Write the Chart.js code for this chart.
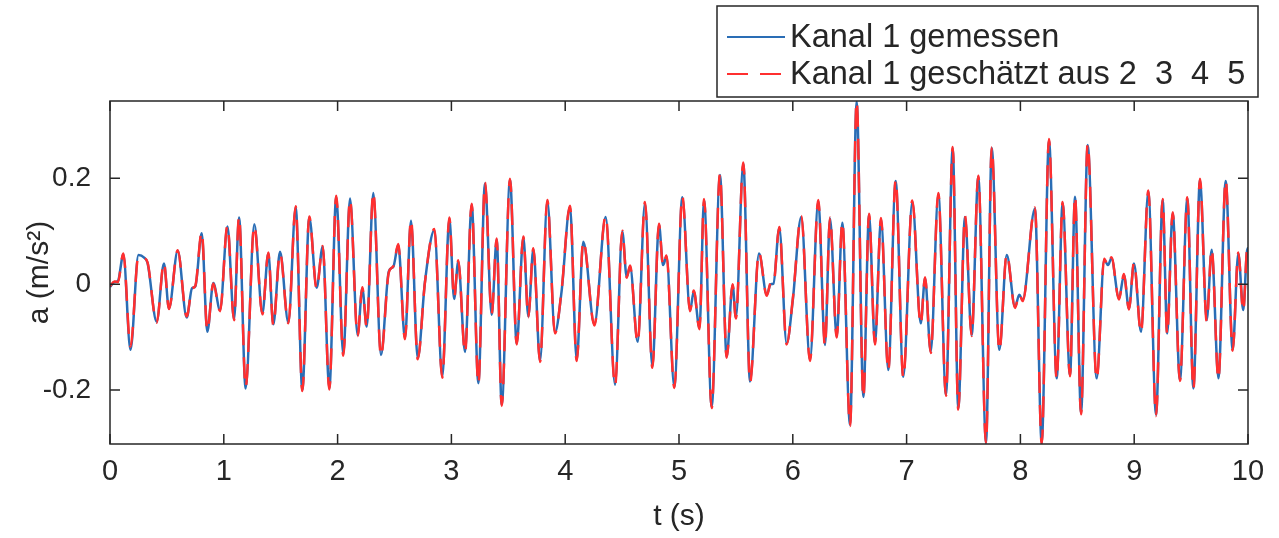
<!DOCTYPE html>
<html>
<head>
<meta charset="utf-8">
<script src="https://cdn.jsdelivr.net/npm/chart.js@4.4.1/dist/chart.umd.min.js"></script>
<style>
  html, body { margin: 0; padding: 0; background: #fff; }
</style>
</head>
<body>
<canvas id="myChart" width="1279" height="538"></canvas>
<script>
// time axis (s) - extrema
var times = [
  0.00, 0.04, 0.07, 0.117, 0.18, 0.25, 0.30, 0.33, 0.41, 0.474, 0.518, 0.595, 0.674, 0.72, 0.75, 0.806, 0.855, 0.908, 0.967,
  1.032, 1.09, 1.134, 1.192, 1.268, 1.339, 1.391, 1.435, 1.494, 1.567, 1.632, 1.69, 1.751, 1.816, 1.869, 1.927, 1.988,
  2.05, 2.109, 2.176, 2.217, 2.256, 2.314, 2.381, 2.45, 2.49, 2.533, 2.592, 2.645, 2.704, 2.768, 2.85, 2.92, 2.982,
  3.024, 3.06, 3.12, 3.178, 3.237, 3.295, 3.354, 3.398, 3.442, 3.515, 3.574, 3.632, 3.676, 3.72, 3.779, 3.843, 3.91, 3.968,
  4.042, 4.101, 4.159, 4.256, 4.356, 4.438, 4.502, 4.54, 4.57, 4.637, 4.701, 4.766, 4.824, 4.86, 4.89, 4.959,
  5.029, 5.097, 5.13, 5.18, 5.22, 5.287, 5.36, 5.419, 5.471, 5.50, 5.565, 5.624, 5.703, 5.771, 5.806, 5.83, 5.881, 5.946,
  6.00, 6.074, 6.151, 6.224, 6.283, 6.327, 6.386, 6.435, 6.503, 6.561, 6.62, 6.67, 6.722, 6.775, 6.839, 6.904, 6.971,
  7.05, 7.124, 7.162, 7.212, 7.279, 7.346, 7.405, 7.454, 7.513, 7.572, 7.63, 7.698, 7.748, 7.815, 7.88, 7.953, 7.99,
  8.02, 8.128, 8.187, 8.251, 8.319, 8.371, 8.436, 8.48, 8.533, 8.591, 8.67, 8.737, 8.77, 8.80, 8.866, 8.91, 8.954, 8.998,
  9.06, 9.124, 9.192, 9.25, 9.29, 9.338, 9.402, 9.467, 9.52, 9.578, 9.637, 9.681, 9.74, 9.804, 9.865, 9.915, 9.958, 9.995, 10.0
];

// Kanal 1 gemessen
var measured = [
  -0.005, 0.004, 0.006, 0.056, -0.124, 0.055, 0.050, 0.040, -0.071, 0.039, -0.046, 0.063, -0.063, -0.008, -0.004, 0.096, -0.090, 0.002, -0.049,
  0.109, -0.066, 0.126, -0.197, 0.113, -0.055, 0.058, -0.076, 0.061, -0.072, 0.145, -0.200, 0.126, -0.007, 0.071, -0.197, 0.165,
  -0.133, 0.162, -0.096, -0.008, -0.080, 0.172, -0.134, 0.024, 0.033, 0.074, -0.102, 0.120, -0.140, 0.005, 0.102, -0.175, 0.124,
  -0.028, 0.043, -0.128, 0.150, -0.187, 0.190, -0.058, 0.084, -0.228, 0.197, -0.112, 0.088, -0.061, 0.066, -0.145, 0.157, -0.091, -0.014,
  0.146, -0.143, 0.080, -0.076, 0.127, -0.190, 0.099, 0.014, 0.033, -0.109, 0.153, -0.156, 0.112, 0.036, 0.052, -0.194,
  0.164, -0.049, -0.014, -0.083, 0.159, -0.232, 0.206, -0.137, -0.002, -0.063, 0.228, -0.184, 0.058, -0.020, 0.000, 0.001, 0.106, -0.112,
  -0.030, 0.127, -0.143, 0.157, -0.115, 0.124, -0.099, 0.116, -0.266, 0.345, -0.213, 0.131, -0.112, 0.123, -0.162, 0.195, -0.175,
  0.156, -0.074, 0.011, -0.128, 0.170, -0.209, 0.257, -0.235, 0.127, -0.096, 0.203, -0.300, 0.257, -0.124, 0.055, -0.043, -0.020,
  -0.030, 0.143, -0.300, 0.272, -0.178, 0.153, -0.172, 0.165, -0.244, 0.263, -0.178, 0.046, 0.036, 0.049, -0.027, 0.017, -0.046, 0.039,
  -0.090, 0.175, -0.247, 0.159, -0.093, 0.134, -0.181, 0.162, -0.197, 0.197, -0.068, 0.065, -0.178, 0.195, -0.124, 0.058, -0.049, 0.068, 0.065
];

// Kanal 1 geschätzt aus 2 3 4 5 (almost on top of the measured one)
var estimated = [
  -0.004, 0.005, 0.004, 0.058, -0.118, 0.053, 0.049, 0.041, -0.073, 0.041, -0.047, 0.064, -0.061, -0.009, -0.003, 0.099, -0.088, 0.001, -0.051,
  0.111, -0.068, 0.128, -0.195, 0.111, -0.057, 0.060, -0.078, 0.059, -0.074, 0.147, -0.202, 0.128, -0.009, 0.072, -0.199, 0.167,
  -0.135, 0.160, -0.098, -0.006, -0.082, 0.174, -0.136, 0.022, 0.034, 0.076, -0.104, 0.122, -0.142, 0.004, 0.104, -0.177, 0.126,
  -0.026, 0.045, -0.130, 0.152, -0.189, 0.192, -0.056, 0.086, -0.230, 0.199, -0.114, 0.090, -0.063, 0.068, -0.147, 0.159, -0.093, -0.012,
  0.148, -0.145, 0.082, -0.078, 0.129, -0.192, 0.101, 0.012, 0.035, -0.111, 0.155, -0.158, 0.114, 0.034, 0.054, -0.196,
  0.166, -0.051, -0.012, -0.085, 0.161, -0.234, 0.208, -0.139, 0.000, -0.065, 0.230, -0.186, 0.060, -0.022, 0.002, 0.000, 0.108, -0.114,
  -0.028, 0.129, -0.145, 0.159, -0.117, 0.126, -0.101, 0.118, -0.268, 0.346, -0.215, 0.133, -0.114, 0.125, -0.164, 0.197, -0.177,
  0.158, -0.076, 0.013, -0.130, 0.172, -0.211, 0.259, -0.237, 0.129, -0.098, 0.205, -0.302, 0.259, -0.126, 0.057, -0.045, -0.018,
  -0.032, 0.145, -0.302, 0.274, -0.180, 0.155, -0.174, 0.167, -0.246, 0.265, -0.180, 0.048, 0.034, 0.051, -0.029, 0.019, -0.048, 0.041,
  -0.092, 0.177, -0.249, 0.161, -0.095, 0.136, -0.183, 0.164, -0.199, 0.199, -0.070, 0.067, -0.180, 0.197, -0.126, 0.060, -0.051, 0.070, 0.066
];

var xTicks = [0, 1, 2, 3, 4, 5, 6, 7, 8, 9, 10];
var yTicks = [-0.2, 0, 0.2];
var yTickLabels = ['-0.2', '0', '0.2'];

var labelMeasured = 'Kanal 1 gemessen';
var labelEstimated = 'Kanal 1 geschätzt aus 2  3  4  5';

var textColor = '#262626';
var fontFam = '"Liberation Sans", Arial, Helvetica, sans-serif';

function toPoints(vals) {
  return times.map(function (t, i) { return { x: t, y: vals[i] }; });
}

// box + inward ticks on all four sides, like matlab
var axesBox = {
  id: 'axesBox',
  afterDatasetsDraw: function (chart) {
    var ctx = chart.ctx, a = chart.chartArea;
    var xs = chart.scales.x, ys = chart.scales.y;
    var len = 10;
    ctx.save();
    ctx.strokeStyle = textColor;
    ctx.lineWidth = 1.5;
    ctx.strokeRect(a.left, a.top, a.right - a.left, a.bottom - a.top);
    ctx.beginPath();
    xs.ticks.forEach(function (t) {
      var px = xs.getPixelForValue(t.value);
      ctx.moveTo(px, a.bottom); ctx.lineTo(px, a.bottom - len);
      ctx.moveTo(px, a.top); ctx.lineTo(px, a.top + len);
    });
    ys.ticks.forEach(function (t) {
      var py = ys.getPixelForValue(t.value);
      ctx.moveTo(a.left, py); ctx.lineTo(a.left + len, py);
      ctx.moveTo(a.right, py); ctx.lineTo(a.right - len, py);
    });
    ctx.stroke();
    ctx.restore();
  }
};

// legend box above the axes (top right)
var boxLegend = {
  id: 'boxLegend',
  afterDraw: function (chart) {
    var ctx = chart.ctx;
    var left = 717, top = 6, right = 1258, bottom = 97;
    ctx.save();
    ctx.fillStyle = '#fff';
    ctx.fillRect(left, top, right - left, bottom - top);
    ctx.strokeStyle = textColor;
    ctx.lineWidth = 1.5;
    ctx.strokeRect(left, top, right - left, bottom - top);
    var rows = [37, 74];
    ctx.font = '32.5px ' + fontFam;
    ctx.textBaseline = 'middle';
    // draw in legend order: measured first row
    [1, 0].forEach(function (di, i) {
      var ds = chart.data.datasets[di];
      var y = rows[i];
      ctx.strokeStyle = ds.borderColor;
      ctx.lineWidth = 2;
      ctx.setLineDash(ds.borderDash || []);
      ctx.beginPath();
      ctx.moveTo(727, y);
      ctx.lineTo(785, y);
      ctx.stroke();
      ctx.setLineDash([]);
      ctx.fillStyle = textColor;
      ctx.fillText(ds.label, 790, y + 1);
    });
    ctx.restore();
  }
};

var myChart = new Chart(document.getElementById('myChart').getContext('2d'), {
  type: 'line',
  data: {
    datasets: [
      {
        label: labelEstimated,
        data: toPoints(estimated),
        borderColor: '#ff2f2f',
        borderWidth: 2.5,
        borderDash: [21, 12],
        pointRadius: 0,
        cubicInterpolationMode: 'monotone',
        clip: 0,
        order: 0
      },
      {
        label: labelMeasured,
        data: toPoints(measured),
        borderColor: '#2a6db5',
        borderWidth: 2.5,
        pointRadius: 0,
        cubicInterpolationMode: 'monotone',
        clip: 0,
        order: 1
      }
    ]
  },
  options: {
    responsive: false,
    animation: false,
    devicePixelRatio: 1,
    layout: { padding: { top: 101, right: 31, left: 0, bottom: 0 } },
    plugins: {
      legend: { display: false },
      tooltip: { enabled: false }
    },
    scales: {
      x: {
        type: 'linear',
        min: 0,
        max: 10,
        afterFit: function (s) { s.height = 94; },
        afterBuildTicks: function (s) { s.ticks = xTicks.map(function (v) { return { value: v }; }); },
        grid: { display: false },
        border: { display: false },
        ticks: {
          padding: 3,
          color: textColor,
          font: { family: fontFam, size: 29 },
          maxRotation: 0,
          callback: function (v) { return String(v); }
        },
        title: {
          display: true,
          text: 't (s)',
          color: textColor,
          font: { family: fontFam, size: 30 },
          padding: { top: 0, bottom: 3 }
        }
      },
      y: {
        min: -0.302,
        max: 0.346,
        afterFit: function (s) { s.width = 110; },
        afterBuildTicks: function (s) { s.ticks = yTicks.map(function (v) { return { value: v }; }); },
        grid: { display: false },
        border: { display: false },
        ticks: {
          padding: 11,
          color: textColor,
          font: { family: fontFam, size: 28 },
          callback: function (v) {
            var i = yTicks.indexOf(v);
            return i >= 0 ? yTickLabels[i] : '';
          }
        },
        title: {
          display: true,
          text: 'a (m/s²)',
          color: textColor,
          font: { family: fontFam, size: 30 },
          padding: { top: 22, bottom: 0 }
        }
      }
    }
  },
  plugins: [axesBox, boxLegend]
});
</script>
</body>
</html>
